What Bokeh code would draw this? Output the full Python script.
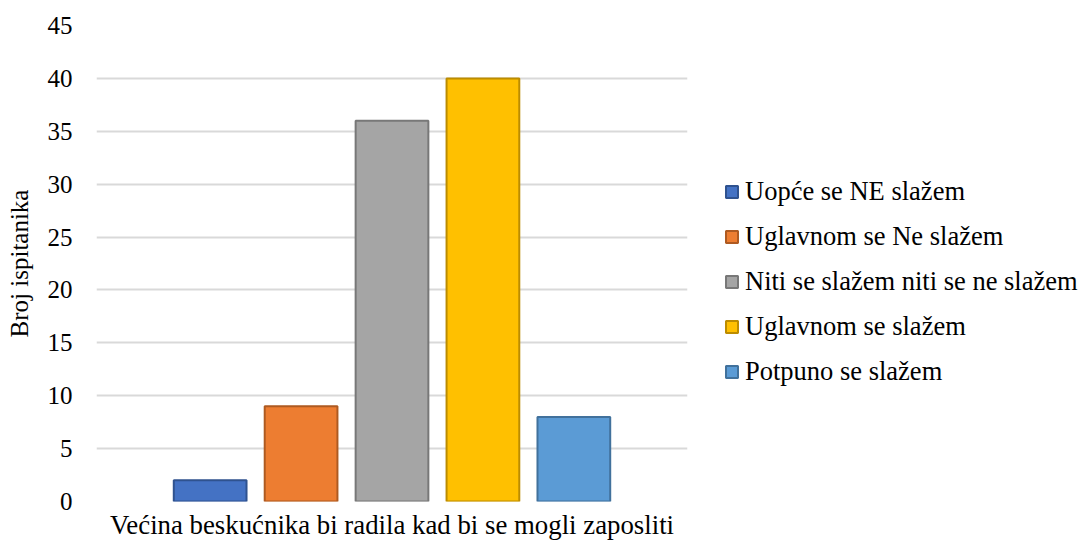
from bokeh.plotting import figure
from bokeh.models import ColumnDataSource, Range1d, FixedTicker, Legend, LegendItem, Title
from bokeh.embed import file_html
from bokeh.resources import INLINE

categories = ["Uopće se NE slažem", "Uglavnom se Ne slažem",
              "Niti se slažem niti se ne slažem", "Uglavnom se slažem",
              "Potpuno se slažem"]
values = [2, 9, 36, 40, 8]
fill_colors = ["#4472C4", "#ED7D31", "#A5A5A5", "#FFC000", "#5B9BD5"]
line_colors = ["#2F528F", "#AE5A21", "#787878", "#BC8C00", "#41719C"]
group_label = "Većina beskućnika bi radila kad bi se mogli zaposliti"
y_ticks = [0, 5, 10, 15, 20, 25, 30, 35, 40, 45]
y_axis_label = "Broj ispitanika"

FONT = "serif"

p = figure(width=1084, height=544, output_backend="svg", toolbar_location=None,
           x_range=Range1d(-1.25, 5.25), y_range=Range1d(0, 45),
           x_axis_location=None,
           min_border_left=96, min_border_right=397, min_border_top=25,
           min_border_bottom=43)
p.frame_width = 591
p.frame_height = 476
p.outline_line_color = None

renderers = []
for i, (c, v, fc, lc) in enumerate(zip(categories, values, fill_colors, line_colors)):
    src = ColumnDataSource(dict(x=[i], top=[v]))
    r = p.vbar(x="x", top="top", width=0.8, bottom=0, source=src,
               fill_color=fc, line_color=lc, line_width=2)
    renderers.append((c, r))

p.xgrid.visible = False
p.ygrid.grid_line_color = "#D9D9D9"
p.ygrid.grid_line_width = 2
p.ygrid.ticker = FixedTicker(ticks=y_ticks)

p.yaxis.ticker = FixedTicker(ticks=y_ticks)
p.yaxis.axis_line_color = None
p.yaxis.major_tick_line_color = None
p.yaxis.major_tick_out = 0
p.yaxis.minor_tick_line_color = None
p.yaxis.minor_tick_out = 0
p.yaxis.major_label_text_font = FONT
p.yaxis.major_label_text_font_size = "25px"
p.yaxis.major_label_text_color = "#000000"
p.yaxis.major_label_standoff = 24
p.yaxis.axis_label = y_axis_label
p.yaxis.axis_label_text_font = FONT
p.yaxis.axis_label_text_font_size = "25px"
p.yaxis.axis_label_text_font_style = "normal"
p.yaxis.axis_label_text_color = "#000000"
p.yaxis.axis_label_standoff = 12

xtitle = Title(text=group_label, align="center", standoff=12,
               text_font=FONT, text_font_size="26.8px", text_font_style="normal",
               text_color="#000000")
p.add_layout(xtitle, "below")

legend = Legend(items=[LegendItem(label=c, renderers=[r]) for c, r in renderers],
                location=(37, 114))
legend.label_text_font = FONT
legend.label_text_font_size = "26.5px"
legend.label_text_color = "#000000"
legend.glyph_width = 15
legend.glyph_height = 15
legend.label_standoff = 6
legend.spacing = 14
legend.padding = 0
legend.margin = 0
legend.border_line_color = None
legend.background_fill_alpha = 0
p.add_layout(legend, "right")

open("out.html", "w").write(file_html(p, INLINE))
